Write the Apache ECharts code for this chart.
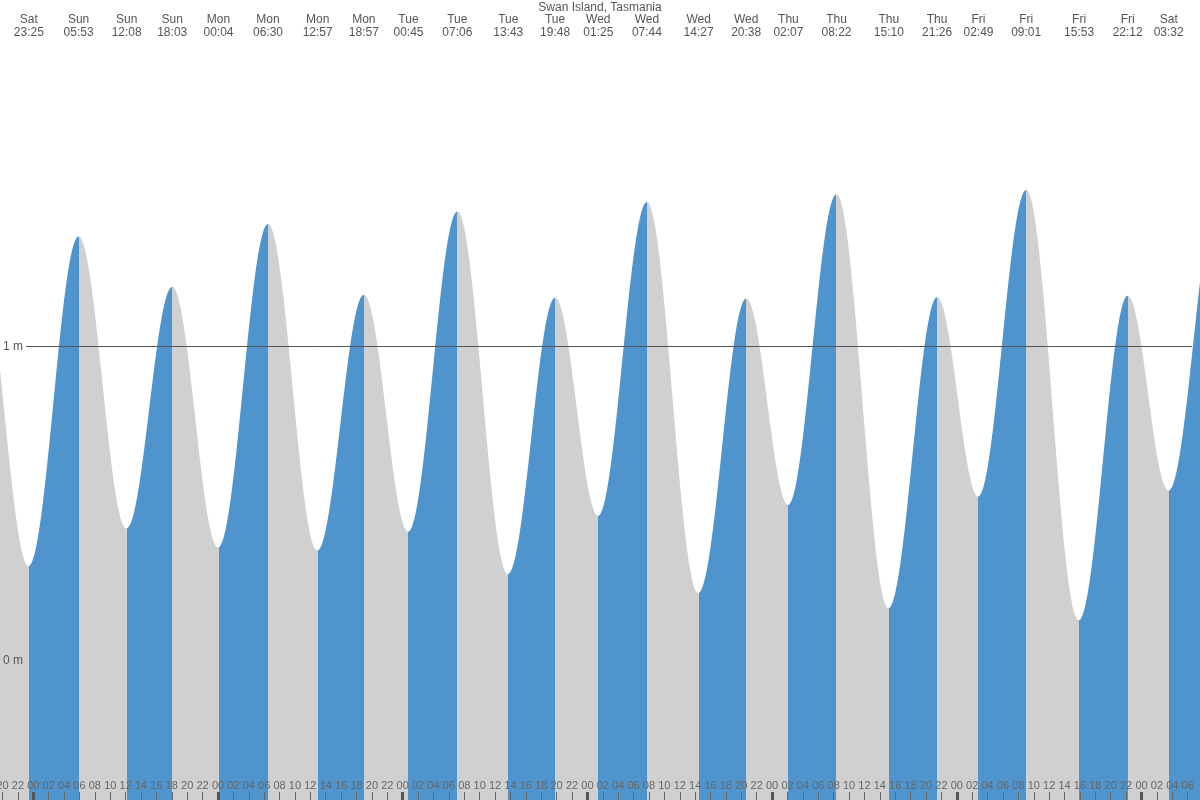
<!DOCTYPE html>
<html>
<head>
<meta charset="utf-8">
<script src="https://cdn.jsdelivr.net/npm/echarts@6/dist/echarts.min.js"></script>
<style>
  html, body { margin: 0; padding: 0; background: #fff; }
  #chart { width: 1200px; height: 800px; }
</style>
</head>
<body>
<div id="chart"></div>
<script>
// ---- Data (tide extremes) ----
// First two and last two points lie outside the visible window (estimated).
const tideDays = ['Sat','Sat','Sat','Sun','Sun','Sun','Mon','Mon','Mon','Mon','Tue','Tue','Tue','Tue','Wed','Wed','Wed','Wed','Thu','Thu','Thu','Thu','Fri','Fri','Fri','Fri','Sat','Sat','Sat'];
const tideTimes = ['11:20','17:15','23:25','05:53','12:08','18:03','00:04','06:30','12:57','18:57','00:45','07:06','13:43','19:48','01:25','07:44','14:27','20:38','02:07','08:22','15:10','21:26','02:49','09:01','15:53','22:12','03:32','09:55','16:45'];
const tideHeights = [0.50,1.24,0.30,1.35,0.42,1.19,0.36,1.39,0.35,1.165,0.41,1.43,0.275,1.155,0.46,1.46,0.215,1.153,0.495,1.485,0.167,1.157,0.522,1.498,0.128,1.162,0.541,1.48,0.10];

const chartTitle = 'Swan Island, Tasmania';
const yLabelValues = [0, 1];
const yUnit = 'm';
const refLineLevel = 1;

// x axis: hours since Sunday 00:00
const X_MIN = -4.327, X_MAX = 151.6;
const Y_MAX = 2.1035, Y_MIN = -0.4443;
const REF_LINE_START = -0.95, REF_LINE_END = 150.56;

const BLUE = '#4f94cd';
const GRAY = '#d0d0d0';

// ---- Derived ----
const hoursOf = [];
let dayOffset = -24, prevDay = tideDays[0];
for (let i = 0; i < tideDays.length; i++) {
  if (tideDays[i] !== prevDay) { dayOffset += 24; prevDay = tideDays[i]; }
  const [hh, mm] = tideTimes[i].split(':').map(Number);
  hoursOf.push(dayOffset + hh + mm / 60);
}
const seriesData = hoursOf.map((t, i) => [t, tideHeights[i]]);

const pieces = [];
for (let i = 0; i < hoursOf.length - 1; i++) {
  pieces.push({
    gte: hoursOf[i], lt: hoursOf[i + 1],
    color: tideHeights[i + 1] > tideHeights[i] ? BLUE : GRAY
  });
}

const hourTicks = [];
for (let h = -4; h <= 150; h += 2) hourTicks.push(h);
const midnightTicks = [];
for (let h = 0; h <= 144; h += 24) midnightTicks.push(h);

const labelTimes = hoursOf.filter(t => t >= X_MIN && t <= X_MAX);
function topLabel(v) {
  for (let i = 0; i < hoursOf.length; i++) {
    if (Math.abs(hoursOf[i] - v) < 1e-6) return tideDays[i] + '\n' + tideTimes[i];
  }
  return '';
}
function hourLabel(v) {
  const h = ((Math.round(v) % 24) + 24) % 24;
  return (h < 10 ? '0' : '') + h;
}

const chart = echarts.init(document.getElementById('chart'), null, { renderer: 'canvas' });
chart.setOption({
  animation: false,
  backgroundColor: '#ffffff',
  title: {
    text: chartTitle, left: 'center', top: 0, padding: [2, 0, 0, 0],
    textStyle: { fontSize: 12, fontWeight: 'normal', color: '#555', fontFamily: 'Liberation Sans, Arial, sans-serif' }
  },
  grid: { left: 0, right: 0, top: 0, bottom: 0, containLabel: false, outerBoundsMode: 'none' },
  xAxis: [
    {
      type: 'value', min: X_MIN, max: X_MAX, position: 'bottom', z: 10,
      axisLine: { show: false, onZero: false }, splitLine: { show: false },
      axisTick: { inside: true, length: 8, customValues: hourTicks, lineStyle: { color: '#666', width: 1 } },
      axisLabel: {
        inside: true, margin: 9, customValues: hourTicks, formatter: hourLabel,
        fontSize: 11, color: '#666', fontFamily: 'Liberation Sans, Arial, sans-serif'
      }
    },
    {
      type: 'value', min: X_MIN, max: X_MAX, position: 'bottom', z: 11,
      axisLine: { show: false, onZero: false }, splitLine: { show: false },
      axisLabel: { show: false },
      axisTick: { inside: true, length: 8, customValues: midnightTicks, lineStyle: { color: '#555', width: 3 } }
    },
    {
      type: 'value', min: X_MIN, max: X_MAX, position: 'top', z: 10,
      axisLine: { show: false, onZero: false }, splitLine: { show: false },
      axisTick: { show: false },
      axisLabel: {
        inside: true, margin: 13, customValues: labelTimes, formatter: topLabel,
        fontSize: 12, lineHeight: 13, color: '#555', fontFamily: 'Liberation Sans, Arial, sans-serif'
      }
    }
  ],
  yAxis: {
    type: 'value', min: Y_MIN, max: Y_MAX, z: 10,
    axisLine: { show: false }, axisTick: { show: false }, splitLine: { show: false },
    axisLabel: {
      inside: true, margin: 3, customValues: yLabelValues, formatter: '{value} ' + yUnit,
      fontSize: 12, color: '#555', fontFamily: 'Liberation Sans, Arial, sans-serif'
    }
  },
  visualMap: {
    type: 'piecewise', show: false, dimension: 0, seriesIndex: 0,
    pieces: pieces, outOfRange: { color: GRAY }
  },
  series: [{
    type: 'line', xAxisIndex: 0, yAxisIndex: 0,
    data: seriesData,
    smooth: 0.36, smoothMonotone: 'x',
    symbol: 'none', showSymbol: false,
    lineStyle: { width: 0, opacity: 0 },
    areaStyle: { opacity: 1, origin: 'start' },
    markLine: {
      silent: true, symbol: ['none', 'none'], label: { show: false },
      lineStyle: { color: '#555', width: 1, type: 'solid' },
      data: [[{ coord: [REF_LINE_START, refLineLevel] }, { coord: [REF_LINE_END, refLineLevel] }]]
    }
  }]
});
</script>
</body>
</html>
